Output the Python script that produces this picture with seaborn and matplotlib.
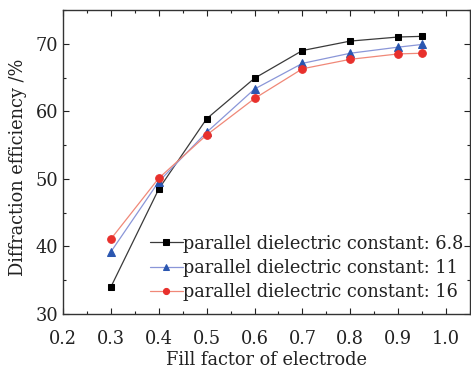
import matplotlib
matplotlib.use("Agg")
import matplotlib.pyplot as plt
from matplotlib.ticker import MultipleLocator
import seaborn as sns
import pandas as pd

# Fill factor of the electrode and diffraction efficiency (%) per dielectric constant
fill_factor = [0.3, 0.4, 0.5, 0.6, 0.7, 0.8, 0.9, 0.95]
eff_6_8 = [34.0, 48.5, 58.9, 64.9, 69.0, 70.4, 71.0, 71.1]
eff_11 = [39.2, 49.6, 56.9, 63.3, 67.1, 68.6, 69.5, 69.9]
eff_16 = [41.1, 50.1, 56.5, 61.9, 66.3, 67.7, 68.5, 68.6]
labels = ["parallel dielectric constant: 6.8",
          "parallel dielectric constant: 11",
          "parallel dielectric constant: 16"]
x_ticks = [0.2, 0.3, 0.4, 0.5, 0.6, 0.7, 0.8, 0.9, 1.0]
x_tick_labels = ["0.2", "0.3", "0.4", "0.5", "0.6", "0.7", "0.8", "0.9", "1.0"]

FS = 12.8
sns.set_theme(style="ticks")
plt.rcParams["font.family"] = ["DejaVu Serif"]
plt.rcParams.update({"font.size": FS, "axes.labelsize": FS, "xtick.labelsize": FS,
                     "ytick.labelsize": FS, "legend.fontsize": FS})

W, H = 471, 368
fig = plt.figure(figsize=(W / 100, H / 100), dpi=100)
ax = fig.add_axes([63 / W, 1 - 314 / H, (470 - 63) / W, (314 - 10) / H])

series = [
    (eff_6_8, labels[0], "s", "#3a3a3a", "#000000", 5.0),
    (eff_11, labels[1], "^", "#8a96d8", "#2a56b0", 5.5),
    (eff_16, labels[2], "o", "#f08878", "#e8302c", 5.5),
]
for values, label, marker, line_c, mark_c, ms in series:
    df = pd.DataFrame({"x": fill_factor, "y": values})
    sns.lineplot(data=df, x="x", y="y", ax=ax, label=label, color=line_c,
                 linewidth=0.9, marker=marker, markersize=ms,
                 markerfacecolor=mark_c, markeredgecolor=mark_c)

ax.set_xlim(0.2, 1.05)
ax.set_ylim(30, 75)
ax.xaxis.set_minor_locator(MultipleLocator(0.05))
ax.yaxis.set_major_locator(MultipleLocator(10))
ax.yaxis.set_minor_locator(MultipleLocator(5))
ax.set_xticks(x_ticks)
ax.set_xticklabels(x_tick_labels)
ax.tick_params(which="both", direction="in", top=True, right=True, colors="#222222",
               labelcolor="#222222")
ax.tick_params(which="major", length=4, width=0.8)
ax.tick_params(which="minor", length=2, width=0.8)
ax.tick_params(axis="x", which="major", pad=11.5)
ax.tick_params(axis="y", which="major", pad=3.5)
for s in ax.spines.values():
    s.set_color("#333333")
    s.set_linewidth(1.0)

ax.set_xlabel("Fill factor of electrode", labelpad=2, color="#222222")
ax.set_ylabel("Diffraction efficiency /%", color="#222222")
ax.yaxis.set_label_coords((27 - 63) / 407, (314 - 167) / 304)

leg = ax.legend(loc="center left", bbox_to_anchor=((150 - 63) / 407, (314 - 268) / 304),
                frameon=False, handlelength=1.85, handletextpad=0.0, labelspacing=0.36,
                markerscale=0.8, borderaxespad=0.0, borderpad=0.0)
for t in leg.get_texts():
    t.set_color("#222222")

fig.savefig("out.png", dpi=100)
